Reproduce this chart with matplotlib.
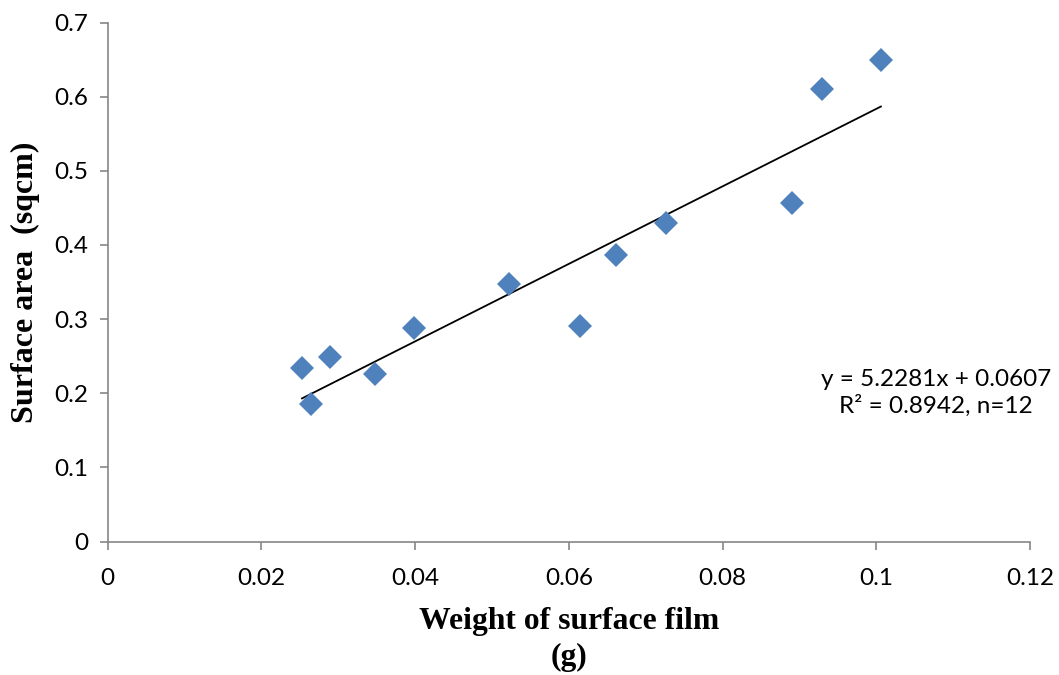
import matplotlib
matplotlib.use("Agg")
import matplotlib.pyplot as plt
import numpy as np

weight_g = [0.0253, 0.0265, 0.0290, 0.0348, 0.0399, 0.0522, 0.0615, 0.0662, 0.0727, 0.0891, 0.0929, 0.1006]
area_sqcm = [0.2336, 0.1855, 0.2493, 0.2259, 0.2876, 0.3473, 0.2907, 0.3860, 0.4300, 0.4562, 0.6103, 0.6490]
slope = 5.2281
intercept = 0.0607
x_ticks = [0, 0.02, 0.04, 0.06, 0.08, 0.1, 0.12]
x_tick_labels = ["0", "0.02", "0.04", "0.06", "0.08", "0.1", "0.12"]
y_ticks = [0, 0.1, 0.2, 0.3, 0.4, 0.5, 0.6, 0.7]
y_tick_labels = ["0", "0.1", "0.2", "0.3", "0.4", "0.5", "0.6", "0.7"]
equation_text = "y = 5.2281x + 0.0607\nR\u00b2 = 0.8942, n=12"

tick_font = ["Lato", "DejaVu Sans"]
label_font = ["Liberation Serif", "DejaVu Serif"]

fig = plt.figure(figsize=(10.59, 6.75), dpi=100)
ax = fig.add_axes([107.5 / 1059, 1 - 541.5 / 675, (1030 - 107.5) / 1059, (541.5 - 22.5) / 675])

ax.plot(weight_g, area_sqcm, linestyle="none", marker="D", markersize=12.5,
        markerfacecolor="#4F81BD", markeredgewidth=0, zorder=3)

xs = np.array([min(weight_g), max(weight_g)])
ax.plot(xs, slope * xs + intercept, color="black", linewidth=1.3, zorder=2)

ax.set_xlim(0, 0.12)
ax.set_ylim(0, 0.7)
ax.set_xticks(x_ticks)
ax.set_xticklabels(x_tick_labels)
ax.set_yticks(y_ticks)
ax.set_yticklabels(y_tick_labels)

for side in ["top", "right"]:
    ax.spines[side].set_visible(False)
for side in ["left", "bottom"]:
    ax.spines[side].set_color("#868686")
    ax.spines[side].set_linewidth(1.2)

ax.tick_params(axis="both", direction="out", length=6, width=1.2, color="#868686",
               labelsize=17.5, labelcolor="black")
ax.tick_params(axis="x", pad=13)
ax.tick_params(axis="y", pad=8)
for lab in ax.get_xticklabels() + ax.get_yticklabels():
    lab.set_family(tick_font)

ax.set_xlabel("Weight of surface film\n(g)", fontsize=22.8, fontweight="bold",
              family=label_font, labelpad=13, linespacing=1.3)
ax.set_ylabel("Surface area  (sqcm)", fontsize=23, fontweight="bold",
              family=label_font, labelpad=10)

ax.text(936, 675 - 393, equation_text, transform=None, fontsize=17.5, family=tick_font,
        ha="center", va="center", linespacing=1.3)

fig.savefig("out.png", dpi=100)
